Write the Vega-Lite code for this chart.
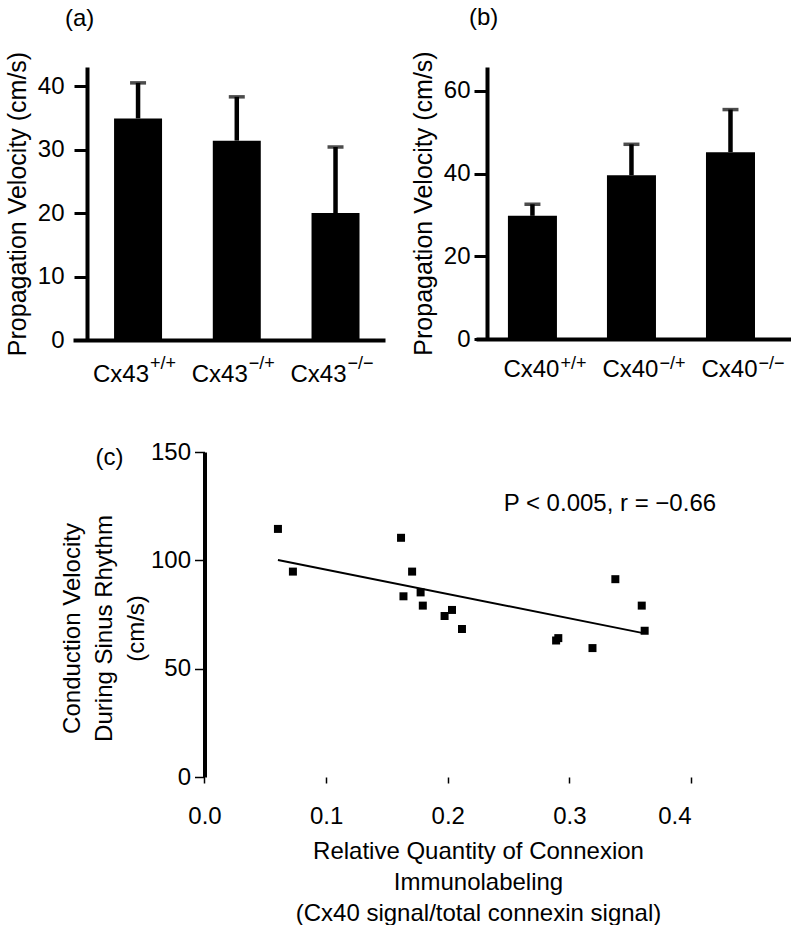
{
  "$schema": "https://vega.github.io/schema/vega-lite/v6.json",
  "background": "white",
  "padding": {"left": 5, "top": 5, "right": 0, "bottom": 0},
  "config": {
    "font": "Liberation Sans",
    "view": {"stroke": null},
    "axis": {
      "domainColor": "black", "domainWidth": 4, "tickColor": "black",
      "labelColor": "black", "titleColor": "black",
      "labelFont": "Liberation Sans", "titleFont": "Liberation Sans",
      "labelFontSize": 24, "titleFontSize": 24, "titleFontWeight": "normal",
      "grid": false
    },
    "title": {"fontSize": 24, "fontWeight": "normal", "anchor": "start", "color": "black", "font": "Liberation Sans"}
  },
  "spacing": 53,
  "vconcat": [
    {
      "spacing": 26,
      "hconcat": [
        {
          "title": {"text": "(a)", "frame": "group", "dx": -8, "offset": 20},
          "width": 312,
          "height": 273,
          "data": {"values": [
            {"group": "Cx43+/+", "base": "Cx43", "sup": "+/+", "mean": 34.9, "upper": 40.5},
            {"group": "Cx43-/+", "base": "Cx43", "sup": "−/+", "mean": 31.4, "upper": 38.3},
            {"group": "Cx43-/-", "base": "Cx43", "sup": "−/−", "mean": 20.0, "upper": 30.4}
          ]},
          "encoding": {
            "x": {"field": "group", "type": "nominal", "sort": null,
              "scale": {"paddingInner": 0.514, "paddingOuter": 0.337, "align": 0.617},
              "axis": {"title": null, "labels": false, "ticks": false, "domainWidth": 4}}
          },
          "layer": [
            {"mark": {"type": "bar", "color": "black"},
             "encoding": {"y": {"field": "mean", "type": "quantitative", "title": "Propagation Velocity (cm/s)",
               "scale": {"domain": [0, 43], "nice": false},
               "axis": {"values": [0, 10, 20, 30, 40], "offset": -14, "tickSize": 13, "tickWidth": 3, "labelPadding": 10, "titlePadding": 7, "titleFontSize": 25}}}},
            {"mark": {"type": "rule", "color": "black", "strokeWidth": 4.5},
             "encoding": {"y": {"field": "mean", "type": "quantitative", "title": "Propagation Velocity (cm/s)"}, "y2": {"field": "upper"}}},
            {"mark": {"type": "tick", "color": "black", "thickness": 3.5, "size": 16},
             "encoding": {"y": {"field": "upper", "type": "quantitative", "title": "Propagation Velocity (cm/s)"}}},
            {"mark": {"type": "text", "align": "right", "baseline": "alphabetic", "dx": 11, "dy": 42, "fontSize": 24, "color": "black"},
             "encoding": {"y": {"datum": 0, "type": "quantitative"}, "text": {"field": "base"}}},
            {"mark": {"type": "text", "align": "left", "baseline": "alphabetic", "dx": 12, "dy": 29, "fontSize": 18, "color": "black"},
             "encoding": {"y": {"datum": 0, "type": "quantitative"}, "text": {"field": "sup"}}}
          ]
        },
        {
          "title": {"text": "(b)", "frame": "group", "dx": -7, "offset": 21},
          "width": 315,
          "height": 272,
          "data": {"values": [
            {"group": "Cx40+/+", "base": "Cx40", "sup": "+/+", "mean": 29.8, "upper": 32.6},
            {"group": "Cx40-/+", "base": "Cx40", "sup": "−/+", "mean": 39.6, "upper": 47.1},
            {"group": "Cx40-/-", "base": "Cx40", "sup": "−/−", "mean": 45.2, "upper": 55.5}
          ]},
          "encoding": {
            "x": {"field": "group", "type": "nominal", "sort": null,
              "scale": {"paddingInner": 0.505, "paddingOuter": 0.343, "align": 0.47},
              "axis": {"title": null, "labels": false, "ticks": false, "domainWidth": 4}}
          },
          "layer": [
            {"mark": {"type": "bar", "color": "black"},
             "encoding": {"y": {"field": "mean", "type": "quantitative", "title": "Propagation Velocity (cm/s)",
               "scale": {"domain": [0, 65.8], "nice": false},
               "axis": {"values": [0, 20, 40, 60], "offset": -11, "tickSize": 13, "tickWidth": 3, "labelPadding": 4, "titlePadding": 7, "titleFontSize": 25}}}},
            {"mark": {"type": "rule", "color": "black", "strokeWidth": 4.5},
             "encoding": {"y": {"field": "mean", "type": "quantitative", "title": "Propagation Velocity (cm/s)"}, "y2": {"field": "upper"}}},
            {"mark": {"type": "tick", "color": "black", "thickness": 3.5, "size": 16},
             "encoding": {"y": {"field": "upper", "type": "quantitative", "title": "Propagation Velocity (cm/s)"}}},
            {"mark": {"type": "text", "align": "right", "baseline": "alphabetic", "dx": 27, "dy": 38, "fontSize": 24, "color": "black"},
             "encoding": {"y": {"datum": 0, "type": "quantitative"}, "text": {"field": "base"}}},
            {"mark": {"type": "text", "align": "left", "baseline": "alphabetic", "dx": 28, "dy": 30, "fontSize": 18, "color": "black"},
             "encoding": {"y": {"datum": 0, "type": "quantitative"}, "text": {"field": "sup"}}}
          ]
        }
      ]
    },
    {
      "width": 618,
      "height": 325,
      "layer": [
        {
          "data": {"values": [
            {"quantity": 0.0604, "velocity": 114.5},
            {"quantity": 0.0727, "velocity": 94.8},
            {"quantity": 0.1616, "velocity": 110.4},
            {"quantity": 0.1707, "velocity": 94.8},
            {"quantity": 0.1636, "velocity": 83.4},
            {"quantity": 0.1777, "velocity": 85.2},
            {"quantity": 0.1795, "velocity": 79.1},
            {"quantity": 0.2035, "velocity": 77.1},
            {"quantity": 0.1974, "velocity": 74.3},
            {"quantity": 0.2117, "velocity": 68.3},
            {"quantity": 0.2909, "velocity": 64.1},
            {"quantity": 0.2891, "velocity": 63.0},
            {"quantity": 0.319, "velocity": 59.5},
            {"quantity": 0.3378, "velocity": 91.3},
            {"quantity": 0.3595, "velocity": 79.1},
            {"quantity": 0.3619, "velocity": 67.5}
          ]},
          "mark": {"type": "point", "shape": "square", "filled": true, "color": "black", "size": 64, "opacity": 1},
          "encoding": {
            "x": {"field": "quantity", "type": "quantitative",
              "title": ["Relative Quantity of Connexion", "Immunolabeling", "(Cx40 signal/total connexin signal)"],
              "scale": {"domain": [-0.1081, 0.4], "nice": false, "zero": false},
              "axis": {"values": [0, 0.1, 0.2, 0.3, 0.4], "format": ".1f", "domain": false, "tickSize": 6, "tickWidth": 1.5, "labelPadding": 21, "titlePadding": 11, "titleLineHeight": 31, "titleX": 405, "titleFontSize": 24}},
            "y": {"field": "velocity", "type": "quantitative",
              "title": ["Conduction Velocity", "During Sinus Rhythm", "(cm/s)"],
              "scale": {"domain": [0, 150], "nice": false},
              "axis": {"values": [0, 50, 100, 150], "offset": -131.5, "tickSize": 10, "tickWidth": 1.5, "labelPadding": 4, "titlePadding": 2, "titleLineHeight": 32, "titleY": 176, "titleFontSize": 24}}
          }
        },
        {
          "mark": {"type": "rule", "color": "black", "strokeWidth": 4},
          "encoding": {
            "x": {"datum": -0.0035, "type": "quantitative"},
            "x2": {"datum": 0.4},
            "y": {"datum": 0, "type": "quantitative"}
          }
        },
        {
          "data": {"values": [
            {"quantity": 0.0604, "fit": 100.2},
            {"quantity": 0.3607, "fit": 66.4}
          ]},
          "mark": {"type": "line", "color": "black", "strokeWidth": 2},
          "encoding": {
            "x": {"field": "quantity", "type": "quantitative"},
            "y": {"field": "fit", "type": "quantitative"}
          }
        },
        {
          "data": {"values": [
            {"quantity": 0.246, "velocity": 126, "label": "P < 0.005, r = −0.66"},
            {"quantity": -0.0895, "velocity": 147.2, "label": "(c)"}
          ]},
          "mark": {"type": "text", "align": "left", "baseline": "middle", "fontSize": 24, "color": "black"},
          "encoding": {
            "x": {"field": "quantity", "type": "quantitative"},
            "y": {"field": "velocity", "type": "quantitative"},
            "text": {"field": "label"}
          }
        }
      ]
    }
  ]
}
